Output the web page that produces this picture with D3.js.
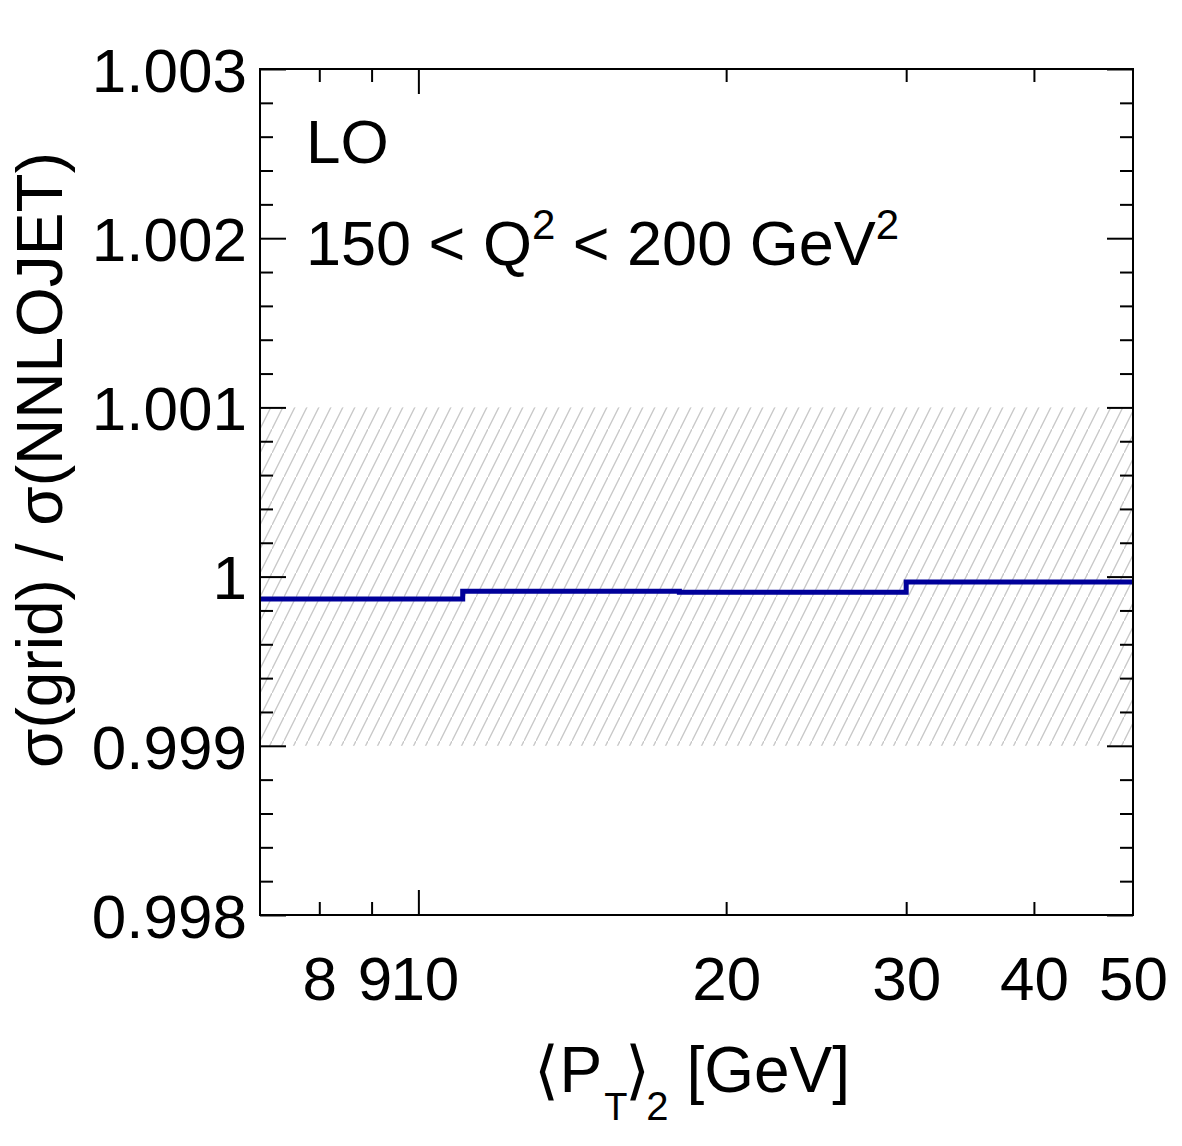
<!DOCTYPE html>
<html>
<head>
<meta charset="utf-8">
<script src="https://cdn.jsdelivr.net/npm/d3@7"></script>
<style>
  body { margin: 0; background: #fff; }
  svg { font-family: "Liberation Sans", Arial, Helvetica, sans-serif; }
  .axis path { display: none; }
  .axis line { stroke: #000; stroke-width: 2; }
  .labels text { font-size: 62px; fill: #000; }
</style>
</head>
<body>
<svg class="js-d3-container"></svg>
<script>
// bin edges in <P_T>_2 (GeV) and ratio per bin
const binEdges = [7, 11.05, 18, 30, 50];
const ratioValues = [0.999868, 0.999913, 0.999908, 0.999968];

// uncertainty band (+-0.1%)
const bandLow = 0.999;
const bandHigh = 1.001;

const xLabelTicks = [8, 9, 10, 20, 30, 40, 50];
const xMinorTicks = [8, 9, 20, 30, 40];
const xMajorTicks = [10];
const yMajorTicks = [0.998, 0.999, 1.000, 1.001, 1.002, 1.003];
const yTickLabels = ["0.998", "0.999", "1", "1.001", "1.002", "1.003"];
const yMinorTicks = [0.9982, 0.9984, 0.9986, 0.9988, 0.9992, 0.9994, 0.9996, 0.9998,
                     1.0002, 1.0004, 1.0006, 1.0008, 1.0012, 1.0014, 1.0016, 1.0018,
                     1.0022, 1.0024, 1.0026, 1.0028];

(() => {
    const svgWidth = 1182;
    const svgHeight = 1146;
    const margin = {top: 69, right: 49, bottom: 231, left: 260};
    const width = svgWidth - margin.left - margin.right;
    const height = svgHeight - margin.top - margin.bottom;

    const x = d3.scaleLog()
        .domain([7, 50])
        .range([0, width]);

    const y = d3.scaleLinear()
        .domain([0.998, 1.003])
        .range([height, 0]);

    const svg = d3.select('.js-d3-container')
        .attr('width', svgWidth)
        .attr('height', svgHeight);

    // hatch pattern for the band
    const defs = svg.append('defs');
    const pat = defs.append('pattern')
        .attr('id', 'hatch')
        .attr('patternUnits', 'userSpaceOnUse')
        .attr('width', 12)
        .attr('height', 24);
    pat.append('line')
        .attr('x1', 0).attr('y1', 24)
        .attr('x2', 12).attr('y2', 0)
        .attr('stroke', '#c8c8c8')
        .attr('stroke-width', 1.4);

    const g = svg.append('g')
        .attr('transform', 'translate(' + margin.left + ',' + margin.top + ')');

    // band
    g.append('rect')
        .attr('x', x(binEdges[0]))
        .attr('y', y(bandHigh))
        .attr('width', x(binEdges[binEdges.length - 1]) - x(binEdges[0]))
        .attr('height', y(bandLow) - y(bandHigh))
        .attr('fill', 'url(#hatch)');

    // step line
    const stepData = binEdges.map((e, i) => ({
        pt: e,
        r: ratioValues[Math.min(i, ratioValues.length - 1)]
    }));
    const line = d3.line()
        .x(d => x(d.pt))
        .y(d => y(d.r))
        .curve(d3.curveStepAfter);

    g.append('path')
        .attr('d', line(stepData))
        .attr('fill', 'none')
        .attr('stroke', '#00009a')
        .attr('stroke-width', 5);

    // ticks (inside, on all four sides)
    const tickAxis = (axisFn, scale, values, size, transform) => {
        g.append('g')
            .attr('class', 'axis')
            .attr('transform', transform)
            .call(axisFn(scale).tickValues(values).tickSize(-size).tickFormat(''));
    };
    tickAxis(d3.axisBottom, x, xMinorTicks, 13, `translate(0,${height})`);
    tickAxis(d3.axisBottom, x, xMajorTicks, 25, `translate(0,${height})`);
    tickAxis(d3.axisTop, x, xMinorTicks, 13, 'translate(0,0)');
    tickAxis(d3.axisTop, x, xMajorTicks, 25, 'translate(0,0)');
    tickAxis(d3.axisLeft, y, yMinorTicks, 13, 'translate(0,0)');
    tickAxis(d3.axisLeft, y, yMajorTicks, 26, 'translate(0,0)');
    tickAxis(d3.axisRight, y, yMinorTicks, 13, `translate(${width},0)`);
    tickAxis(d3.axisRight, y, yMajorTicks, 26, `translate(${width},0)`);

    // tick labels (9 and 10 nudged apart a little, like the original)
    const nudge = {9: 3, 10: 6};
    g.append('g')
        .attr('class', 'axis labels')
        .attr('transform', `translate(0,${height})`)
        .call(d3.axisBottom(x).tickValues(xLabelTicks).tickSize(0).tickPadding(85)
            .tickFormat(d3.format('d')))
        .selectAll('text')
        .attr('dy', 0)
        .attr('dx', d => nudge[d] || 0);

    g.append('g')
        .attr('class', 'axis labels')
        .call(d3.axisLeft(y).tickValues(yMajorTicks).tickSize(0).tickPadding(13)
            .tickFormat((d, i) => yTickLabels[i]))
        .selectAll('text').attr('dy', '0.36em');

    // frame
    g.append('rect')
        .attr('x', 0).attr('y', 0)
        .attr('width', width).attr('height', height)
        .attr('fill', 'none')
        .attr('stroke', '#000')
        .attr('stroke-width', 2);

    // annotations
    g.append('text')
        .attr('x', 46).attr('y', 94)
        .style('font-size', '62px')
        .text('LO');

    const q = g.append('text')
        .attr('x', 46).attr('y', 196)
        .style('font-size', '63px');
    q.append('tspan').text('150 < Q');
    q.append('tspan').attr('dy', -26).style('font-size', '42px').text('2');
    q.append('tspan').attr('dy', 26).text(' < 200 GeV');
    q.append('tspan').attr('dy', -26).style('font-size', '42px').text('2');

    // x title
    const xt = svg.append('text')
        .attr('x', 850).attr('y', 1092)
        .attr('text-anchor', 'end')
        .style('font-size', '64px');
    xt.append('tspan').text('\u27E8P');
    xt.append('tspan').attr('dy', 28).attr('dx', 2).style('font-size', '38px').text('T');
    xt.append('tspan').attr('dy', -28).attr('dx', -2).text('\u27E9');
    xt.append('tspan').attr('dy', 28).attr('dx', -4).style('font-size', '40px').text('2');
    xt.append('tspan').attr('dy', -28).text(' [GeV]');

    // y title
    svg.append('text')
        .attr('transform', 'translate(62,460) rotate(-90)')
        .attr('text-anchor', 'middle')
        .style('font-size', '64px')
        .text('\u03C3(grid) / \u03C3(NNLOJET)');
})();
</script>
</body>
</html>
